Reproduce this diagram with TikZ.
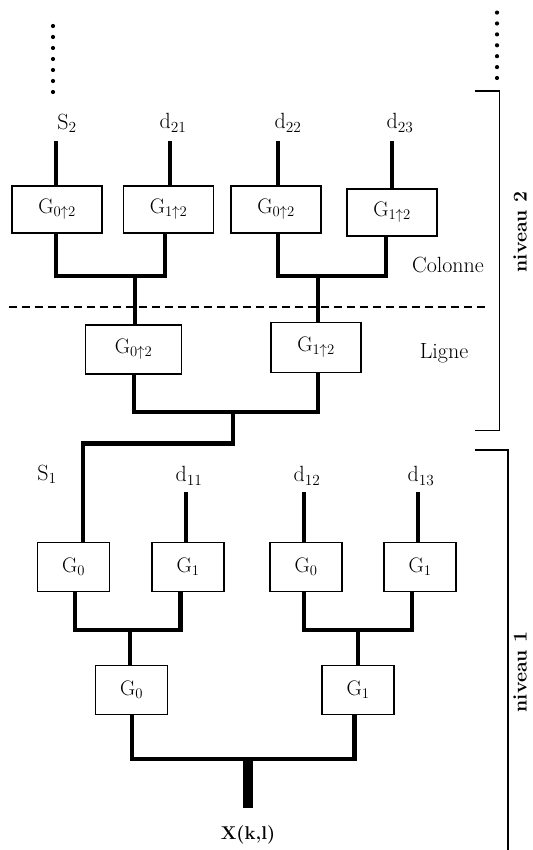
\RequirePackage{fix-cm}
\documentclass[tikz,border=0pt]{standalone}
\begin{document}
\begin{tikzpicture}[x=1pt,y=-1pt,
  lbl/.style={inner sep=0pt,font=\fontsize{22}{26}\selectfont},
  gbox/.style={draw,line width=1.4pt,inner sep=0pt,minimum width=72pt,minimum height=49pt,font=\fontsize{21}{25}\selectfont},
  wide/.style={minimum width=90pt,minimum height=47pt},
  wire/.style={line width=4.6pt,line join=miter},
  stem/.style={line width=9.5pt},
  brk/.style={line width=1.6pt,line join=miter},
  lvl/.style={inner sep=0pt,rotate=90,font=\fontsize{19.5}{22}\selectfont\bfseries},
  dot/.style={circle,fill,inner sep=0pt,minimum size=4.2pt}
]
\useasboundingbox (0,0) rectangle (532,850);

% dots
\foreach \i in {0,...,6} {
  \node[dot] (dl\i) at (53,26+11*\i) {};
  \node[dot] (dr\i) at (497,12.6+10.9*\i) {};
}

% level 2 labels
\node[lbl] (s2) at (67,123) {S$_2$};
\node[lbl] (d21) at (173,123) {d$_{21}$};
\node[lbl] (d22) at (288,123) {d$_{22}$};
\node[lbl] (d23) at (400,123) {d$_{23}$};

% level 2 column boxes
\node[gbox,wide] (a1) at (57,209.5) {G$_{0\uparrow2}$};
\node[gbox,wide] (a2) at (168.5,209.5) {G$_{1\uparrow2}$};
\node[gbox,wide] (a3) at (276,209.5) {G$_{0\uparrow2}$};
\node[gbox,wide] (a4) at (392,212.5) {G$_{1\uparrow2}$};

% level 2 row boxes
\node[gbox,minimum width=96pt,minimum height=49pt] (b1) at (133.5,349.5) {G$_{0\uparrow2}$};
\node[gbox,minimum width=90pt,minimum height=50pt] (b2) at (316,347.5) {G$_{1\uparrow2}$};

% level 1 labels
\node[lbl] (s1) at (47,474) {S$_1$};
\node[lbl] (d11) at (189,476) {d$_{11}$};
\node[lbl] (d12) at (307,476) {d$_{12}$};
\node[lbl] (d13) at (421,476) {d$_{13}$};

% level 1 boxes
\node[gbox] (c1) at (73.5,567) {G$_0$};
\node[gbox] (c2) at (188,567) {G$_1$};
\node[gbox] (c3) at (306,567) {G$_0$};
\node[gbox] (c4) at (420,567) {G$_1$};
\node[gbox] (e1) at (131.5,690) {G$_0$};
\node[gbox] (e2) at (358,690) {G$_1$};

% side labels
\node[lbl] (col) at (448,265) {Colonne};
\node[lbl] (lig) at (444,353) {Ligne};
\node[lvl] (n2) at (520,232) {niveau 2};
\node[lvl] (n1) at (520,672) {niveau 1};
\node[inner sep=0pt,font=\fontsize{18.5}{22}\selectfont\bfseries] (x) at (248,835) {X(k,l)};

% inputs level 2
\coordinate (t1) at (56,141);
\coordinate (t2) at (170,141);
\coordinate (t3) at (278,141);
\coordinate (t4) at (392,141);
\draw[wire] (t1) -- (t1 |- a1.north);
\draw[wire] (t2) -- (t2 |- a2.north);
\draw[wire] (t3) -- (t3 |- a3.north);
\draw[wire] (t4) -- (t4 |- a4.north);

% column merges
\coordinate (m1) at (135,276);
\coordinate (m2) at (318,276);
\draw[wire] ([xshift=-1pt]a1.south) -- ([xshift=-1pt]a1.south |- m1) -- ([xshift=-3.5pt]a2.south |- m1) -- ([xshift=-3.5pt]a2.south);
\draw[wire] (m1) -- (m1 |- b1.north);
\draw[wire] ([xshift=2pt]a3.south) -- ([xshift=2pt]a3.south |- m2) -- ([xshift=-6pt]a4.south |- m2) -- ([xshift=-6pt]a4.south);
\draw[wire] (m2) -- (m2 |- b2.north);

% dashed separator
\coordinate (dsa) at (8.5,307);
\coordinate (dsb) at (489,307);
\draw[line width=1.2pt,dash pattern=on 8pt off 5pt] (dsa) -- (dsb);

% row merge and link to level 1
\coordinate (m3) at (233,412);
\coordinate (k1) at (233,443.6);
\coordinate (k2) at (83,443.6);
\draw[wire] ([xshift=0.5pt]b1.south) -- ([xshift=0.5pt]b1.south |- m3) -- ([xshift=2pt]b2.south |- m3) -- ([xshift=2pt]b2.south);
\draw[wire] (m3) -- (k1) -- (k2) -- (k2 |- c1.north);

% inputs level 1
\coordinate (u2) at (186,492);
\coordinate (u3) at (304,492);
\coordinate (u4) at (418,492);
\draw[wire] (u2) -- (u2 |- c2.north);
\draw[wire] (u3) -- (u3 |- c3.north);
\draw[wire] (u4) -- (u4 |- c4.north);

% level 1 merges
\coordinate (m4) at (130,630);
\coordinate (m5) at (358,630);
\draw[wire] ([xshift=1.5pt]c1.south) -- ([xshift=1.5pt]c1.south |- m4) -- ([xshift=-7.5pt]c2.south |- m4) -- ([xshift=-7.5pt]c2.south);
\draw[wire] (m4) -- (m4 |- e1.north);
\draw[wire] ([xshift=-2pt]c3.south) -- ([xshift=-2pt]c3.south |- m5) -- ([xshift=-8pt]c4.south |- m5) -- ([xshift=-8pt]c4.south);
\draw[wire] (m5) -- (m5 |- e2.north);

\coordinate (m6) at (248,759);
\coordinate (xe) at (248,808);
\draw[wire] ([xshift=0.5pt]e1.south) -- ([xshift=0.5pt]e1.south |- m6) -- ([xshift=-3.4pt]e2.south |- m6) -- ([xshift=-3.4pt]e2.south);
\draw[stem] (m6) -- (xe);

% brackets
\coordinate (p1) at (475,91);
\coordinate (p2) at (499.5,91);
\coordinate (p3) at (499.5,430.4);
\coordinate (p4) at (475,430.4);
\draw[brk] (p1) -- (p2) -- (p3) -- (p4);
\coordinate (q1) at (475,449.7);
\coordinate (q2) at (508,449.7);
\coordinate (q3) at (508,852);
\draw[brk] (q1) -- (q2) -- (q3);
\end{tikzpicture}
\end{document}
